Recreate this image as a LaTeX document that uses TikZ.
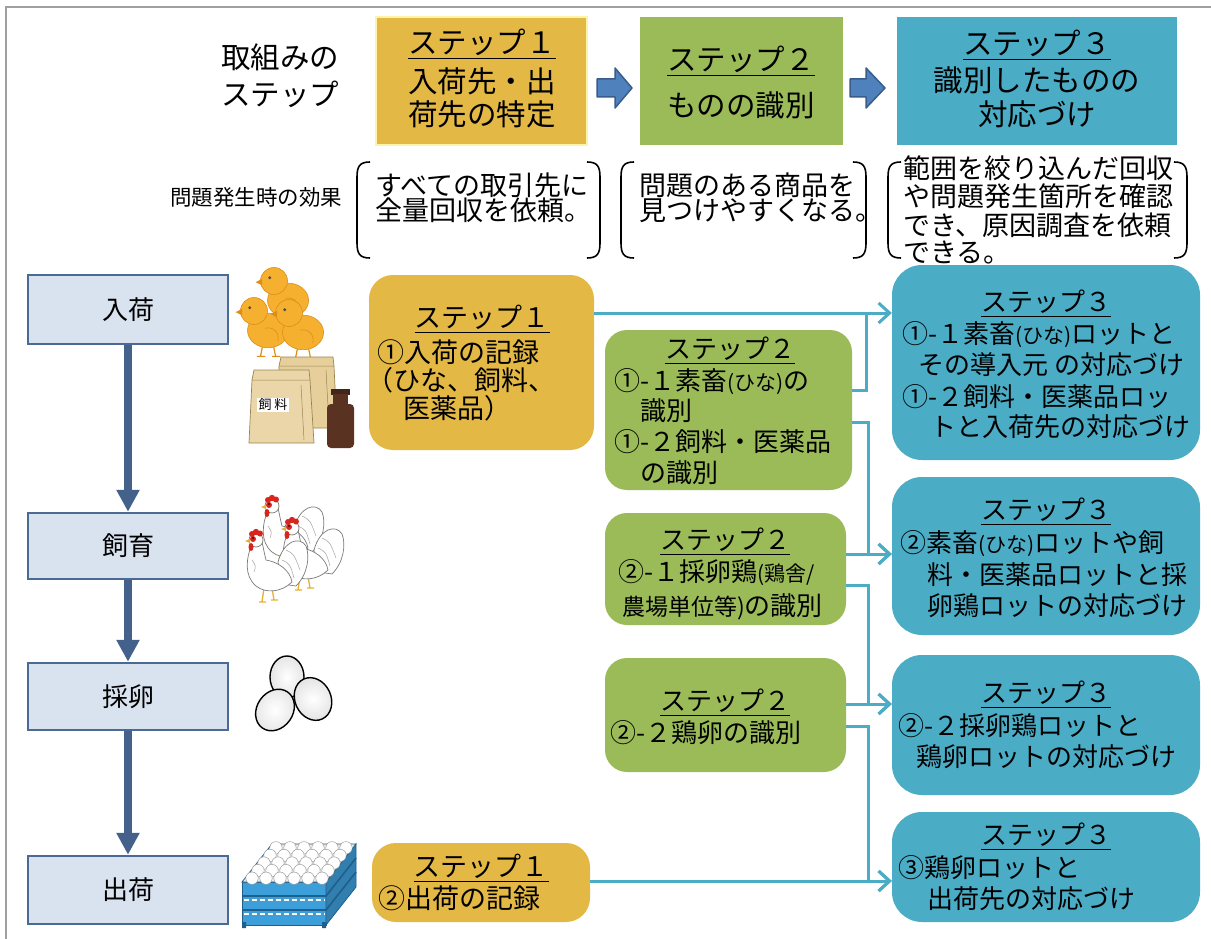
\documentclass[tikz,border=0pt]{standalone}
\usepackage{fontspec}
\setmainfont{Noto Sans CJK JP}
\usetikzlibrary{arrows.meta}
\definecolor{cgold}{HTML}{E3B844}
\definecolor{cgoldedge}{HTML}{FFF3A8}
\definecolor{cgreen}{HTML}{9BBB59}
\definecolor{cteal}{HTML}{4BACC6}
\definecolor{cline}{HTML}{4BACC6}
\definecolor{pfill}{HTML}{D9E2EF}
\definecolor{pdraw}{HTML}{4B6A93}
\definecolor{parrow}{HTML}{43618B}
\definecolor{harrow}{HTML}{4F81BD}
\definecolor{harrowd}{HTML}{385D8A}
\definecolor{chickc}{HTML}{F5B030}
\definecolor{chickd}{HTML}{DE8E18}
\definecolor{bagc}{HTML}{E6CF9A}
\definecolor{bagd}{HTML}{9C8450}
\definecolor{bottlec}{HTML}{5A3222}
\definecolor{trayc}{HTML}{3D9FD9}
\definecolor{trayd}{HTML}{1F5F8C}
\definecolor{combc}{HTML}{D9261C}
\definecolor{legc}{HTML}{E8B030}
\definecolor{hend}{HTML}{7A7A7A}
\definecolor{framec}{HTML}{A0A0A0}
\newcommand\js{\rule[-0.12em]{0pt}{1em}}
\newcommand\ul[1]{\underline{\js #1}}
\newcommand\fs[1]{\fontsize{#1}{#1}\selectfont}
\newcommand\sm[1]{{\fs{21}#1}}
\newcommand\boxat[6]{\node[#1,minimum width={(#4)-(#2)},minimum height={(#5)-(#3)}] (#6) at ({((#2)+(#4))/2},{((#3)+(#5))/2}) {};}
\newcommand\lbrk[3]{\draw[brk] ({#1+13},#2) .. controls ({#1+3},#2) and (#1,{#2+4}) .. (#1,{#2+15}) -- (#1,{#3-15}) .. controls (#1,{#3-4}) and ({#1+3},#3) .. ({#1+13},#3);}
\newcommand\rbrk[3]{\draw[brk] ({#1-13},#2) .. controls ({#1-3},#2) and (#1,{#2+4}) .. (#1,{#2+15}) -- (#1,{#3-15}) .. controls (#1,{#3-4}) and ({#1-3},#3) .. ({#1-13},#3);}
\newcommand\chick[2]{%
\begin{scope}[shift={(#1,#2)},scale=1.08]
\draw[chickd, line width=1.2pt, line cap=round] (8,32) -- (6,42) (3,42) -- (10,42) (18,32) -- (20,42) (17,42) -- (24,42);
\draw[fill=chickc, draw=chickd, line width=0.6pt] (13,18) ellipse [x radius=19, y radius=16];
\draw[fill=chickc, draw=chickd, line width=0.6pt] (0,0) circle [radius=12.5];
\fill[chickd] (-11,-2) -- (-17,1) -- (-11,4) -- cycle;
\fill[black!70] (-4,-3) circle [radius=1.5];
\draw[chickd, line width=0.6pt] (10,16) .. controls (18,14) and (24,20) .. (22,28);
\end{scope}}
\newcommand\hen[2]{%
\begin{scope}[shift={(#1,#2)}]
\draw[legc, line width=1.3pt] (8,48) -- (6,62) (3,62) -- (10,62) (16,48) -- (18,60) (15,60) -- (22,60);
\draw[hend, fill=white, line width=0.7pt] (22,22) .. controls (28,0) and (44,-4) .. (50,6) .. controls (54,16) and (52,34) .. (40,46) -- (26,44) -- cycle;
\draw[hend, fill=white, line width=0.7pt] (-4,4) .. controls (-10,18) and (-12,36) .. (0,46) .. controls (10,54) and (26,52) .. (36,42) .. controls (34,30) and (22,22) .. (10,20) .. controls (8,12) and (7,6) .. (6,2) -- cycle;
\draw[hend, fill=white, line width=0.7pt] (0,0) circle [radius=7];
\fill[combc] (-4,-6) circle [radius=3] (0,-8) circle [radius=3.2] (4,-6.5) circle [radius=3];
\fill[combc] (-5,7) ellipse [x radius=2.5, y radius=4];
\fill[combc] (-3,-1) circle [radius=3];
\fill[legc] (-6,-1) -- (-11,1) -- (-6,3) -- cycle;
\fill (-3,-2) circle [radius=0.9];
\draw[hend!70, line width=0.5pt] (30,10) .. controls (38,14) .. (44,30) (26,20) .. controls (34,24) .. (38,38) (-4,20) .. controls (0,26) .. (-2,32);
\end{scope}}
\begin{document}
\begin{tikzpicture}[x=1pt,y=-1pt,
  ln/.style={inner sep=0pt,anchor=west},
  ct/.style={inner sep=0pt,anchor=center},
  brk/.style={line width=1.6pt,black},
  hb1/.style={fill=cgold,draw=cgoldedge,line width=2pt,inner sep=0pt},
  hb2/.style={fill=cgreen,inner sep=0pt},
  hb3/.style={fill=cteal,inner sep=0pt},
  pbox/.style={fill=pfill,draw=pdraw,line width=2.5pt,inner sep=0pt},
  s1box/.style={fill=cgold,rounded corners=24pt,inner sep=0pt},
  s2box/.style={fill=cgreen,rounded corners=22pt,inner sep=0pt},
  s3box/.style={fill=cteal,rounded corners=30pt,inner sep=0pt},
  conn/.style={draw=cline,line width=3pt},
  carr/.style={conn,-{Straight Barb[length=11pt,width=20pt]}},
  larr/.style={draw=parrow,line width=8pt,-{Triangle[width=22pt,length=22pt]}},
  harr/.style={fill=harrow,draw=harrowd,line width=1.5pt,line join=round},
  egg/.style={inner color=white,outer color=black!10,draw=black,line width=1.4pt}]
\useasboundingbox (0,0) rectangle (1211,939);
\fill[white] (0,0) rectangle (1211,939);
\draw[framec,line width=2pt] (6,939) -- (6,7) -- (1211,7);

% ---------- header ----------
\node[ct,font=\fs{29.5}] (hl1) at (280,57) {\js 取組みの};
\node[ct,font=\fs{29.5}] (hl2) at (280,94) {\js ステップ};
\boxat{hb1}{376}{17}{587}{145}{h1}
\boxat{hb2}{640}{17}{843}{145}{h2}
\boxat{hb3}{897}{17}{1177}{145}{h3}
\node[ct,font=\fs{29.5}] (h1t) at (482,43) {\ul{ステップ１}};
\node[ct,font=\fs{29.5}] (h1a) at (482,81) {\js 入荷先・出};
\node[ct,font=\fs{29.5}] (h1b) at (482,114) {\js 荷先の特定};
\node[ct,font=\fs{29.5}] (h2t) at (741,60) {\ul{ステップ２}};
\node[ct,font=\fs{29.5}] (h2a) at (741,105) {\js ものの識別};
\node[ct,font=\fs{29.5}] (h3t) at (1037,44) {\ul{ステップ３}};
\node[ct,font=\fs{29.5}] (h3a) at (1037,80) {\js 識別したものの};
\node[ct,font=\fs{29.5}] (h3b) at (1037,114) {\js 対応づけ};
\draw[harr] (597,79) -- (615,79) -- (615,68) -- (632,88) -- (615,108) -- (615,97) -- (597,97) -- cycle;
\draw[harr] (850,79) -- (866,79) -- (866,68) -- (885,88) -- (866,108) -- (866,97) -- (850,97) -- cycle;

% ---------- effects ----------
\node[ct,font=\fs{21.5}] (eff) at (256,197) {\js 問題発生時の効果};
\lbrk{357}{162}{258}\rbrk{600}{162}{258}
\lbrk{621}{162}{258}\rbrk{866}{162}{258}
\lbrk{888}{162}{258}\rbrk{1187}{162}{258}
\node[ln,font=\fs{27}] (b1a) at (375,185) {\js すべての取引先に};
\node[ln,font=\fs{27}] (b1b) at (375,210) {\js 全量回収を依頼。};
\node[ln,font=\fs{27}] (b2a) at (639,185) {\js 問題のある商品を};
\node[ln,font=\fs{27}] (b2b) at (639,210) {\js 見つけやすくなる。};
\node[ln,font=\fs{27}] (b3a) at (903,168) {\js 範囲を絞り込んだ回収};
\node[ln,font=\fs{27}] (b3b) at (903,196) {\js や問題発生箇所を確認};
\node[ln,font=\fs{27}] (b3c) at (903,225) {\js でき、原因調査を依頼};
\node[ln,font=\fs{27}] (b3d) at (903,252) {\js できる。};

% ---------- process column ----------
\boxat{pbox}{28}{275}{228}{344}{p1}
\boxat{pbox}{28}{513}{228}{579}{p2}
\boxat{pbox}{28}{663}{228}{730}{p3}
\boxat{pbox}{28}{856}{228}{924}{p4}
\node[ct,font=\fs{26}] (p1t) at (p1) {\js 入荷};
\node[ct,font=\fs{26}] (p2t) at (p2) {\js 飼育};
\node[ct,font=\fs{26}] (p3t) at (p3) {\js 採卵};
\node[ct,font=\fs{26}] (p4t) at (p4) {\js 出荷};
\draw[larr] (p1.south) -- (p2.north);
\draw[larr] (p2.south) -- (p3.north);
\draw[larr] (p3.south) -- (p4.north);

% ---------- pictures ----------
\chick{274}{281}
\chick{254}{311}
\chick{289}{313}
\draw[fill=bagc, draw=bagd, line width=0.7pt] (281,357) -- (333,357) -- (334,366) -- (337,428) -- (277,428) -- (279,366) -- cycle;
\draw[bagd,line width=0.5pt] (279,366) -- (334,366) (326,370) -- (329,425);
\draw[fill=bagc!85!white, draw=bagd, line width=0.7pt] (254,370) -- (309,370) -- (310,380) -- (314,443) -- (249,443) -- (252,380) -- cycle;
\draw[bagd,line width=0.5pt] (252,380) -- (310,380) (301,385) -- (304,440);
\node[fill=white,inner sep=1.5pt,font=\fs{13}] (feed) at (273,405) {飼 料};
\fill[bottlec!75!black] (331,389) rectangle (350,395);
\fill[bottlec] (333,394) rectangle (348,406);
\fill[bottlec, rounded corners=4pt] (327,404) rectangle (354,448);
\hen{272}{506}
\hen{292}{528}
\hen{256}{540}
\shadedraw[egg] (287,677) ellipse [x radius=17, y radius=21];
\shadedraw[egg, rotate around={25:(313,699)}] (313,699) ellipse [x radius=18, y radius=22];
\shadedraw[egg, rotate around={-35:(275,710)}] (275,710) ellipse [x radius=18, y radius=22];
\draw[fill=trayc, draw=trayd, line width=0.8pt] (242,882) rectangle (326,925);
\draw[fill=trayc!80!black, draw=trayd, line width=0.8pt] (326,882) -- (356,844) -- (356,887) -- (326,925) -- cycle;
\draw[fill=black!8, draw=trayd, line width=0.8pt] (242,882) -- (326,882) -- (356,844) -- (272,844) -- cycle;
\foreach \j in {4,3,2,1,0}{\foreach \i in {0,...,5}{%
  \pgfmathsetmacro\ex{242+84*(\i+0.5)/6+30*(\j+0.5)/5}%
  \pgfmathsetmacro\ey{882-38*(\j+0.5)/5}%
  \draw[fill=white, draw=black!45, line width=0.4pt] (\ex,\ey) circle [radius=6.2];}}
\draw[trayd, line width=1.6pt] (242,896) -- (326,896) -- (356,858) (242,910) -- (326,910) -- (356,872);
\draw[white, line width=1.6pt, dash pattern=on 5pt off 3pt] (244,900) -- (325,900) (244,914) -- (325,914);
\fill[trayd] (242,922) rectangle (246,928) (322,922) rectangle (326,928);

% ---------- step boxes ----------
\boxat{s1box}{369}{275}{594}{450}{s1a}
\boxat{s1box}{372}{843}{590}{922}{s1b}
\boxat{s2box}{605}{330}{852}{490}{s2a}
\boxat{s2box}{605}{513}{846}{625}{s2b}
\boxat{s2box}{605}{658}{846}{772}{s2c}
\boxat{s3box}{892}{265}{1200}{460}{s3a}
\boxat{s3box}{892}{477}{1200}{635}{s3b}
\boxat{s3box}{892}{655}{1200}{795}{s3c}
\boxat{s3box}{892}{812}{1200}{922}{s3d}

\node[ct,font=\fs{27}] (s1at) at (482,318) {\ul{ステップ１}};
\node[ln,font=\fs{27}] (s1a1) at (377,352) {\js ①入荷の記録};
\node[ln,font=\fs{27}] (s1a2) at (366,380) {\js （ひな、飼料、};
\node[ln,font=\fs{27}] (s1a3) at (403,408) {\js 医薬品）};
\node[ct,font=\fs{27}] (s1bt) at (481,867) {\ul{ステップ１}};
\node[ln,font=\fs{27}] (s1b1) at (378,898) {\js ②出荷の記録};

\node[ct,font=\fs{26}] (s2at) at (730,350) {\ul{ステップ２}};
\node[ln,font=\fs{26}] (s2a1) at (614,381) {\js ①-１素畜\sm{(ひな)}の};
\node[ln,font=\fs{26}] (s2a2) at (640,411) {\js 識別};
\node[ln,font=\fs{26}] (s2a3) at (614,442) {\js ①-２飼料・医薬品};
\node[ln,font=\fs{26}] (s2a4) at (640,473) {\js の識別};
\node[ct,font=\fs{26}] (s2bt) at (725,541) {\ul{ステップ２}};
\node[ln,font=\fs{26}] (s2b1) at (618,572) {\js ②-１採卵鶏\sm{(鶏舎/}};
\node[ln,font=\fs{26}] (s2b2) at (622,606) {\js {\fs{23}農場単位等)}の識別};
\node[ct,font=\fs{26}] (s2ct) at (725,702) {\ul{ステップ２}};
\node[ln,font=\fs{26}] (s2c1) at (610,733) {\js ②-２鶏卵の識別};

\node[ct,font=\fs{26}] (s3at) at (1046,303) {\ul{ステップ３}};
\node[ln,font=\fs{26}] (s3a1) at (902,334) {\js ①-１素畜\sm{(ひな)}ロットと};
\node[ln,font=\fs{26}] (s3a2) at (918,365) {\js その導入元 の対応づけ};
\node[ln,font=\fs{26}] (s3a3) at (902,397) {\js ①-２飼料・医薬品ロッ};
\node[ln,font=\fs{26}] (s3a4) at (930,427) {\js トと入荷先の対応づけ};
\node[ct,font=\fs{26}] (s3bt) at (1046,511) {\ul{ステップ３}};
\node[ln,font=\fs{26}] (s3b1) at (900,543) {\js ②素畜\sm{(ひな)}ロットや飼};
\node[ln,font=\fs{26}] (s3b2) at (927,575) {\js 料・医薬品ロットと採};
\node[ln,font=\fs{26}] (s3b3) at (927,606) {\js 卵鶏ロットの対応づけ};
\node[ct,font=\fs{26}] (s3ct) at (1046,694) {\ul{ステップ３}};
\node[ln,font=\fs{26}] (s3c1) at (898,726) {\js ②-２採卵鶏ロットと};
\node[ln,font=\fs{26}] (s3c2) at (916,757) {\js 鶏卵ロットの対応づけ};
\node[ct,font=\fs{26}] (s3dt) at (1046,836) {\ul{ステップ３}};
\node[ln,font=\fs{26}] (s3d1) at (898,868) {\js ③鶏卵ロットと};
\node[ln,font=\fs{26}] (s3d2) at (927,899) {\js 出荷先の対応づけ};

% ---------- connectors ----------
\coordinate (L1) at (0,313);
\coordinate (L2) at (0,390);
\coordinate (L3) at (0,422);
\coordinate (L4) at (0,554);
\coordinate (L5) at (0,585);
\coordinate (L6) at (0,704);
\coordinate (L7) at (0,726);
\coordinate (L8) at (0,881);
\coordinate (V1) at (866,0);
\coordinate (V2) at (868,0);
\draw[carr] (s1a.east |- L1) -- (s3a.west |- L1);
\draw[conn] (s2a.east |- L2) -| (V1 |- L1);
\draw[carr] (s2a.east |- L3) -| (V2 |- L4) -- (s3b.west |- L4);
\draw[carr] (s2b.east |- L4) -- (s3b.west |- L4);
\draw[carr] (s2b.east |- L5) -| (V2 |- L6) -- (s3c.west |- L6);
\draw[carr] (s2c.east |- L6) -- (s3c.west |- L6);
\draw[carr] (s2c.east |- L7) -| (V2 |- L8) -- (s3d.west |- L8);
\draw[carr] (s1b.east |- L8) -- (s3d.west |- L8);
\end{tikzpicture}
\end{document}
